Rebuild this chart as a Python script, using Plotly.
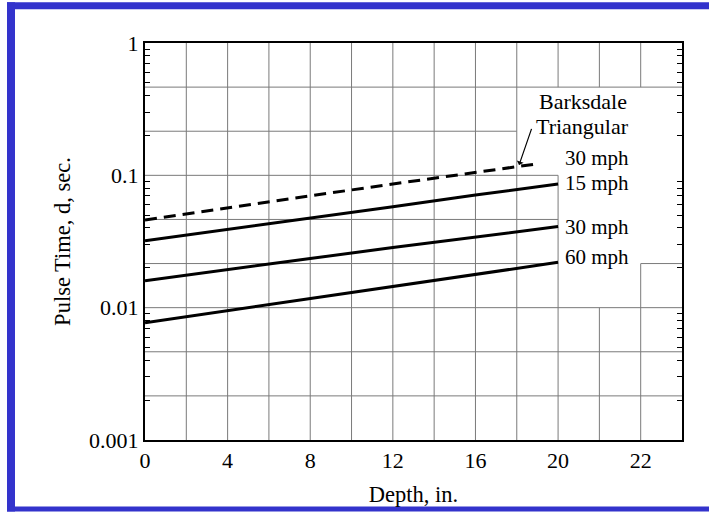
import plotly.graph_objects as go

# Pulse time vs. depth (log scale)
depth = [0, 4, 8, 12, 16, 20]
pulse_15mph = [0.032, 0.039, 0.047, 0.058, 0.071, 0.086]
pulse_30mph = [0.016, 0.0195, 0.0235, 0.0285, 0.034, 0.041]
pulse_60mph = [0.0077, 0.0095, 0.0118, 0.0145, 0.018, 0.022]

barksdale_depth = [0, 4, 8, 12, 16, 18.8]
barksdale_30mph = [0.046, 0.057, 0.070, 0.086, 0.105, 0.121]

x_ticks = [0, 4, 8, 12, 16, 20, 24]
x_ticktext = ["0", "4", "8", "12", "16", "20", "22"]
y_ticks = [1, 0.1, 0.01, 0.001]
y_ticktext = ["1", "0.1", "0.01", "0.001"]
y_minor = [d * 10 ** e for e in (-3, -2, -1) for d in range(2, 10)]

FONT = "Liberation Serif"
BLUE = "#3333CC"
GRID = "#7a7a7a"

fig = go.Figure()

solid = dict(color="black", width=3)
fig.add_trace(go.Scatter(x=depth, y=pulse_15mph, mode="lines", line=solid, name="15 mph"))
fig.add_trace(go.Scatter(x=depth, y=pulse_30mph, mode="lines", line=solid, name="30 mph"))
fig.add_trace(go.Scatter(x=depth, y=pulse_60mph, mode="lines", line=solid, name="60 mph"))
fig.add_trace(go.Scatter(x=barksdale_depth, y=barksdale_30mph, mode="lines",
                         line=dict(color="black", width=3, dash="12px,7px"),
                         name="Barksdale Triangular 30 mph"))

shapes = []

# grid: every 2 in. across, three lines per decade; left open behind the curve labels
def grid_line(x0, x1, y0, y1):
    shapes.append(dict(type="line", xref="x", yref="y", x0=x0, x1=x1, y0=y0, y1=y1,
                       line=dict(color=GRID, width=1), layer="below"))

h_levels = [10 ** (-k / 3) for k in range(1, 9)]
h_spans = {1: [(0, 26)], 2: [(0, 18)], 3: [(0, 20)], 4: [(0, 20)],
           5: [(0, 20), (24, 26)]}
for k, yv in enumerate(h_levels, start=1):
    for x0, x1 in h_spans.get(k, [(0, 26)]):
        grid_line(x0, x1, yv, yv)

v_spans = {20: [(0.001, 0.1), (0.464, 1)], 22: [(0.001, 0.01), (0.464, 1)],
           24: [(0.001, 0.0215), (0.464, 1)]}
for xv in range(2, 26, 2):
    for y0, y1 in v_spans.get(xv, [(0.001, 1)]):
        grid_line(xv, xv, y0, y1)

# blue frame around the page (paper coordinates from pixel positions)
W, H = 709, 515
L, R, T, B = 145, 682, 43, 443
def px(x):
    return (x - L) / (R - L)
def py(y):
    return (B - y) / (B - T)
for x0, x1, y0, y1 in [(7, 709, 2, 9), (7, 15, 2, 515), (7, 709, 510, 515)]:
    shapes.append(dict(type="rect", xref="paper", yref="paper",
                       x0=px(x0), x1=px(x1), y0=py(y1), y1=py(y0),
                       fillcolor=BLUE, line=dict(width=0), layer="above"))

text_font = dict(family=FONT, size=22, color="black")
label_font = dict(family=FONT, size=21, color="black")
annotations = [
    dict(x=21.2, y=-0.4425, text="Barksdale", showarrow=False, font=text_font,
         xanchor="center", yanchor="middle"),
    dict(x=21.2, y=-0.63, text="Triangular", showarrow=False, font=text_font,
         xanchor="center", yanchor="middle"),
    dict(x=18.11, y=-0.9225, ax=18.74, ay=-0.6375, axref="x", ayref="y", text="",
         showarrow=True, arrowhead=1, arrowsize=1, arrowwidth=1.2, arrowcolor="black"),
]
for label, yl in [("30 mph", -0.868), ("15 mph", -1.058), ("30 mph", -1.3875), ("60 mph", -1.62)]:
    annotations.append(dict(x=20.3, y=yl, text=label, showarrow=False, font=label_font,
                            xanchor="left", yanchor="middle", borderpad=0))

fig.update_layout(
    width=W, height=H,
    margin=dict(l=L, r=W - R, t=T, b=H - B),
    paper_bgcolor="white", plot_bgcolor="white",
    showlegend=False,
    font=dict(family=FONT, size=22, color="black"),
    shapes=shapes,
    annotations=annotations,
    xaxis=dict(
        range=[0, 26], tickmode="array", tickvals=x_ticks, ticktext=x_ticktext,
        ticks="", showgrid=False,
        showline=True, linecolor="black", linewidth=2, mirror=True, zeroline=False,
        title=dict(text="Depth, in.", font=dict(family=FONT, size=22.5), standoff=14),
        tickfont=dict(family=FONT, size=22),
    ),
    yaxis=dict(
        type="log", range=[-3, 0], tickmode="array", tickvals=y_ticks, ticktext=y_ticktext,
        ticks="", showgrid=False,
        showline=True, linecolor="black", linewidth=2, mirror="ticks", zeroline=False,
        minor=dict(tickmode="array", tickvals=y_minor, ticks="inside", ticklen=5,
                   tickcolor="black", tickwidth=1, showgrid=False),
        title=dict(text="Pulse Time, d, sec.", font=dict(family=FONT, size=22.5), standoff=12),
        tickfont=dict(family=FONT, size=22),
    ),
)

fig.write_html("out.html")
